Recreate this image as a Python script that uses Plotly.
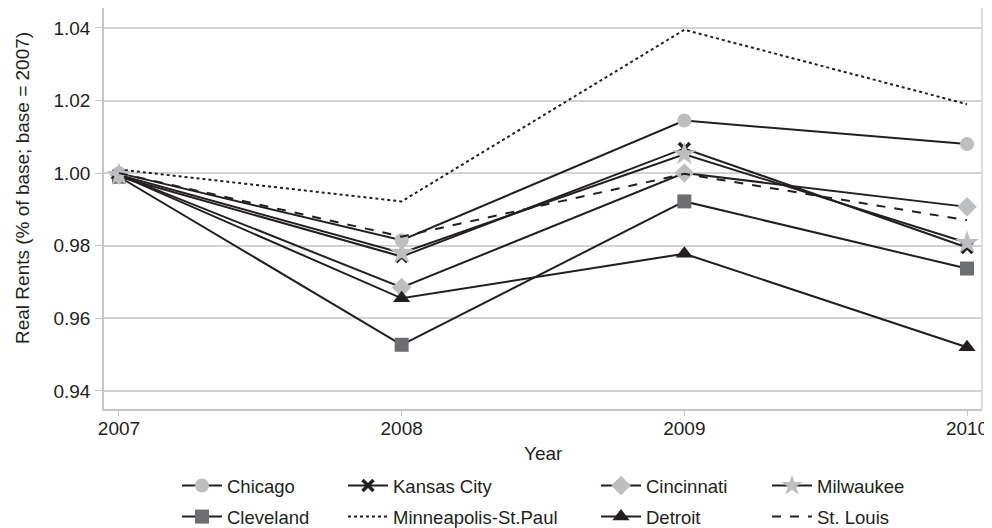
import plotly.graph_objects as go

years = [2007, 2008, 2009, 2010]
chicago = [1.000, 0.9815, 1.0145, 1.008]
kansas_city = [0.999, 0.977, 1.0068, 0.9795]
cincinnati = [0.9995, 0.9685, 1.0000, 0.9907]
milwaukee = [0.9995, 0.978, 1.0052, 0.9808]
cleveland = [0.999, 0.9527, 0.9922, 0.9737]
minneapolis = [1.001, 0.9922, 1.0395, 1.019]
detroit = [0.9995, 0.9655, 0.9778, 0.952]
st_louis = [1.000, 0.9825, 0.9998, 0.987]
y_ticks = [0.94, 0.96, 0.98, 1.00, 1.02, 1.04]

LINE = "#231f20"
LIGHT = "#bcbec0"
MID = "#6d6e71"
AXIS = "#c4c6c8"
GRID = "#d1d3d4"
FAM = "Liberation Sans, Arial, sans-serif"

series = [
    ("Chicago", chicago, dict(symbol="circle", size=14, color=LIGHT), "solid", "legend"),
    ("Cleveland", cleveland, dict(symbol="square", size=14, color=MID), "solid", "legend"),
    ("Kansas City", kansas_city, dict(symbol="x-thin", size=11, color=LINE, line=dict(width=3.5, color=LINE)), "solid", "legend2"),
    ("Minneapolis-St.Paul", minneapolis, None, "dot", "legend2"),
    ("Cincinnati", cincinnati, dict(symbol="diamond", size=15, color=LIGHT), "solid", "legend3"),
    ("Detroit", detroit, dict(symbol="triangle-up", size=15, color=LINE), "solid", "legend3"),
    ("Milwaukee", milwaukee, dict(symbol="star", size=18, color=LIGHT), "solid", "legend4"),
    ("St. Louis", st_louis, None, "dash", "legend4"),
]

fig = go.Figure()
for name, vals, marker, dash, lg in series:
    kw = dict(x=years, y=vals, name=name, legend=lg, legendgroup=name,
              line=dict(color=LINE, width=2, dash=dash))
    if marker:
        kw["mode"] = "lines+markers"
        kw["marker"] = marker
    else:
        kw["mode"] = "lines"
    fig.add_trace(go.Scatter(**kw))

# page has an 8px body margin; figure occupies page x 8..992, y 8..528
PL, PW = 104, 878      # plot left / width in page px
PB, PH = 409, 401      # plot bottom / height in page px


def px(xp):
    return (xp - PL) / PW


def py(yp):
    return (PB - yp) / PH


legend_common = dict(orientation="v", yanchor="top", y=py(467), xref="paper", yref="paper",
                     font=dict(family=FAM, size=18.5, color=LINE),
                     bgcolor="rgba(0,0,0,0)", tracegroupgap=4, itemwidth=40)

fig.update_layout(
    width=984, height=520,
    margin=dict(l=96, r=10, t=0, b=119, autoexpand=False),
    paper_bgcolor="white", plot_bgcolor="white",
    font=dict(family=FAM, size=19, color=LINE),
    legend=dict(x=px(177), **legend_common),
    legend2=dict(x=px(343), **legend_common),
    legend3=dict(x=px(596), **legend_common),
    legend4=dict(x=px(767), **legend_common),
    xaxis=dict(
        range=[2006.947, 2010.053], tickvals=years, ticktext=[str(y) for y in years],
        showgrid=False, showline=True, linecolor=AXIS, linewidth=1.5,
        ticks="outside", ticklen=5, tickcolor=AXIS, automargin=False,
        ticklabelstandoff=-4,
        tickfont=dict(size=19), zeroline=False,
    ),
    yaxis=dict(
        range=[0.935, 1.0455], tickvals=y_ticks, ticktext=[f"{v:.2f}" for v in y_ticks],
        showgrid=True, gridcolor=GRID, gridwidth=1.5,
        showline=True, linecolor=AXIS, linewidth=1.5, automargin=False,
        ticks="outside", ticklen=7, tickcolor=AXIS, ticklabelstandoff=1,
        tickfont=dict(size=19), zeroline=False,
    ),
    annotations=[
        dict(text="Real Rents (% of base; base = 2007)", textangle=-90, showarrow=False,
             xref="paper", yref="paper", x=px(22), y=py(188), xanchor="center", yanchor="middle",
             font=dict(family=FAM, size=19, color=LINE)),
        dict(text="Year", showarrow=False, xref="paper", yref="paper",
             x=px(543), y=py(453), xanchor="center", yanchor="middle",
             font=dict(family=FAM, size=19, color=LINE)),
    ],
)
fig.add_shape(type="line", xref="paper", yref="paper", x0=1, x1=1, y0=0, y1=1,
              line=dict(color=GRID, width=1.5), layer="below")

fig.write_html("out.html")
